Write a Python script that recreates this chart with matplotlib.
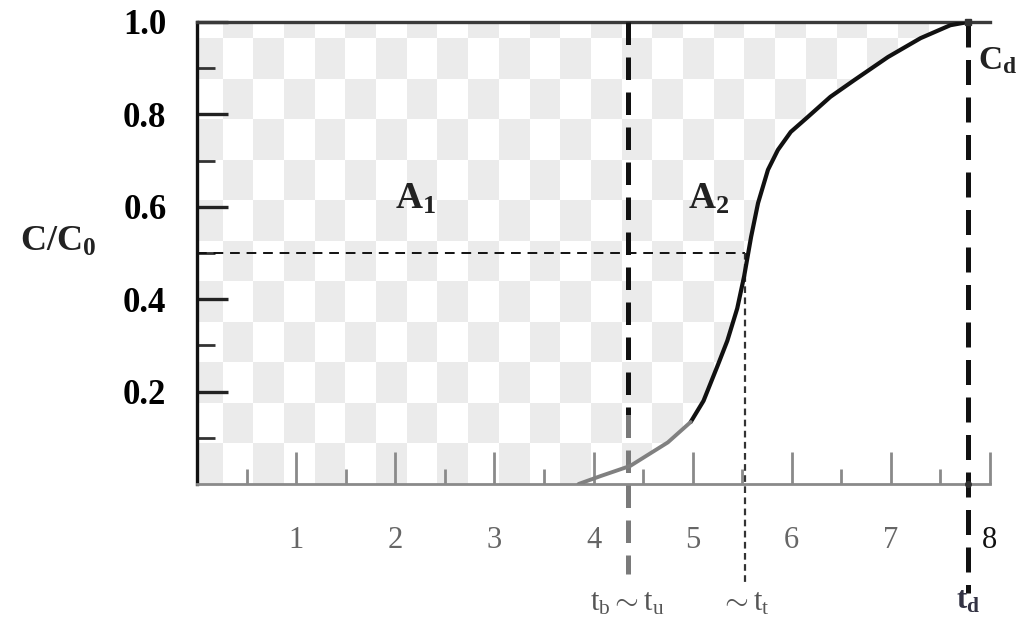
import numpy as np
import matplotlib
matplotlib.use("Agg")
import matplotlib.pyplot as plt
from matplotlib.patches import Polygon
from matplotlib.colors import ListedColormap

plt.rcParams['font.family'] = ['Liberation Serif', 'DejaVu Serif']
plt.rcParams['mathtext.fontset'] = 'custom'
plt.rcParams['mathtext.rm'] = 'Liberation Serif'
plt.rcParams['mathtext.it'] = 'Liberation Serif'
plt.rcParams['mathtext.bf'] = 'Liberation Serif:bold'

# ---- data ----
t_curve = [3.85, 4.07, 4.37, 4.75, 4.98, 5.11, 5.25, 5.35, 5.45, 5.52, 5.59,
           5.66, 5.76, 5.86, 5.99, 6.16, 6.39, 6.63, 6.97, 7.30, 7.60, 7.78]
c_curve = [0.0, 0.017, 0.039, 0.09, 0.134, 0.18, 0.255, 0.31, 0.38, 0.45, 0.535,
           0.608, 0.68, 0.723, 0.762, 0.794, 0.838, 0.874, 0.924, 0.965, 0.993, 1.0]
t_b = 4.35          # t_b ~ t_u
t_t = 5.53          # ~ t_t (C/C0 = 0.5)
t_d = 7.78          # t_d
c_half = 0.5
x_major = [1, 2, 3, 4, 5, 6, 7, 8]
x_minor = [0.5, 1.5, 2.5, 3.5, 4.5, 5.5, 6.5, 7.5]
y_major = [0.2, 0.4, 0.6, 0.8, 1.0]
y_minor = [0.1, 0.3, 0.5, 0.7, 0.9]
x_labels = ['1', '2', '3', '4', '5', '6', '7', '8']
y_labels = ['0.2', '0.4', '0.6', '0.8', '1.0']

fig = plt.figure(figsize=(10.32, 6.17), dpi=100)
ax = fig.add_axes([0.1909, 0.2156, 0.7684, 0.7488])
ax.set_xlim(0, 8)
ax.set_ylim(0, 1.0)

# ---- checkerboard shaded region (between curve and C/C0 = 1) ----
poly_pts = [(0, 0)] + list(zip(t_curve, c_curve)) + [(0, 1.0)]
clip = Polygon(poly_pts, closed=True, facecolor='none', edgecolor='none',
               transform=ax.transData)
ax.add_patch(clip)
nrows, ncols = 12, 26
pattern = (np.add.outer(np.arange(nrows), np.arange(ncols)) % 2).astype(float)
im = ax.imshow(pattern, cmap=ListedColormap(['#ffffff', '#ebebeb']),
               extent=(-0.05, 8, 0, 1.0 + 0.05), origin='upper',
               interpolation='nearest', aspect='auto', zorder=0)
im.set_clip_path(clip)

# ---- curve ----
split = 5
ax.plot(t_curve[split - 1:], c_curve[split - 1:], color='#111111', lw=3.0,
        zorder=4, solid_capstyle='round', solid_joinstyle='round')
ax.plot(t_curve[:split], c_curve[:split], color='#808080', lw=2.8, zorder=4,
        solid_capstyle='round', solid_joinstyle='round')

# ---- reference lines ----
ax.plot([0, t_t], [c_half, c_half], color='#111111', lw=1.4,
        dashes=(5, 3.5), zorder=3)
ax.plot([t_b, t_b], [1.0, 0.15], color='#111111', lw=3.6, dashes=(4.5, 2.5),
        zorder=3, clip_on=False)
ax.plot([t_b, t_b], [0.15, -0.195], color='#7a7a7a', lw=3.6, dashes=(4.5, 2.5),
        zorder=3, clip_on=False)
ax.plot([t_t, t_t], [c_half, -0.215], color='#333333', lw=1.6,
        dashes=(3, 2), zorder=3, clip_on=False)
ax.plot([t_d, t_d], [1.0, -0.235], color='#111111', lw=3.6, dashes=(5, 2.5),
        zorder=3, clip_on=False)
ax.plot([t_d], [1.0], marker='s', ms=5, color='#333333', zorder=6, clip_on=False)
ax.plot([t_d], [0.0], marker='o', ms=4, color='#333333', zorder=6, clip_on=False)

# ---- spines ----
ax.spines['right'].set_visible(False)
ax.spines['top'].set_color('#3a3a3a')
ax.spines['top'].set_linewidth(2.4)
ax.spines['left'].set_color('#111111')
ax.spines['left'].set_linewidth(2.4)
ax.spines['bottom'].set_color('#8a8a8a')
ax.spines['bottom'].set_linewidth(2.0)

# ---- ticks ----
ax.set_xticks(x_major)
ax.set_xticklabels(x_labels)
ax.set_xticks(x_minor, minor=True)
ax.set_yticks(y_major)
ax.set_yticklabels(y_labels)
ax.set_yticks(y_minor, minor=True)
ax.tick_params(axis='x', which='major', direction='in', length=23, width=2.0,
               color='#8a8a8a', pad=30, labelsize=22, labelcolor='#666666')
ax.tick_params(axis='x', which='minor', direction='in', length=11, width=2.0,
               color='#8a8a8a')
ax.tick_params(axis='y', which='major', direction='in', length=22, width=2.4,
               color='#222222', pad=22, labelsize=25)
ax.tick_params(axis='y', which='minor', direction='in', length=13, width=2.0,
               color='#333333')
for lbl in ax.get_yticklabels():
    lbl.set_fontweight('bold')
xl = ax.get_xticklabels()
xl[-1].set_color('#111111')
ax.xaxis.get_major_ticks()[-1].tick1line.set_color('#111111')

# ---- annotations ----
ax.text(2.2, 0.617, r'$\mathbf{A}_\mathbf{1}$', fontsize=27, ha='center',
        va='center', color='#222222')
ax.text(5.16, 0.617, r'$\mathbf{A}_\mathbf{2}$', fontsize=27, ha='center',
        va='center', color='#222222')
ax.text(7.88, 0.915, r'$\mathbf{C}_\mathbf{d}$', fontsize=24, ha='left',
        va='center', color='#222222')
fig.text(58 / 1032, 1 - 242 / 617, r'$\mathbf{C/C}_\mathbf{0}$', fontsize=26,
         ha='center', va='center', color='#222222')
fig.text(627 / 1032, 1 - 603 / 617, r'$\mathrm{t_b \sim t_u}$', fontsize=22,
         ha='center', va='center', color='#555555')
fig.text(745 / 1032, 1 - 603 / 617, r'$\mathrm{\sim t_t}$', fontsize=22,
         ha='center', va='center', color='#555555')
fig.text(968 / 1032, 1 - 601 / 617, r'$\mathbf{t_d}$', fontsize=22,
         ha='center', va='center', color='#333344')

fig.savefig('out.png', dpi=100)
